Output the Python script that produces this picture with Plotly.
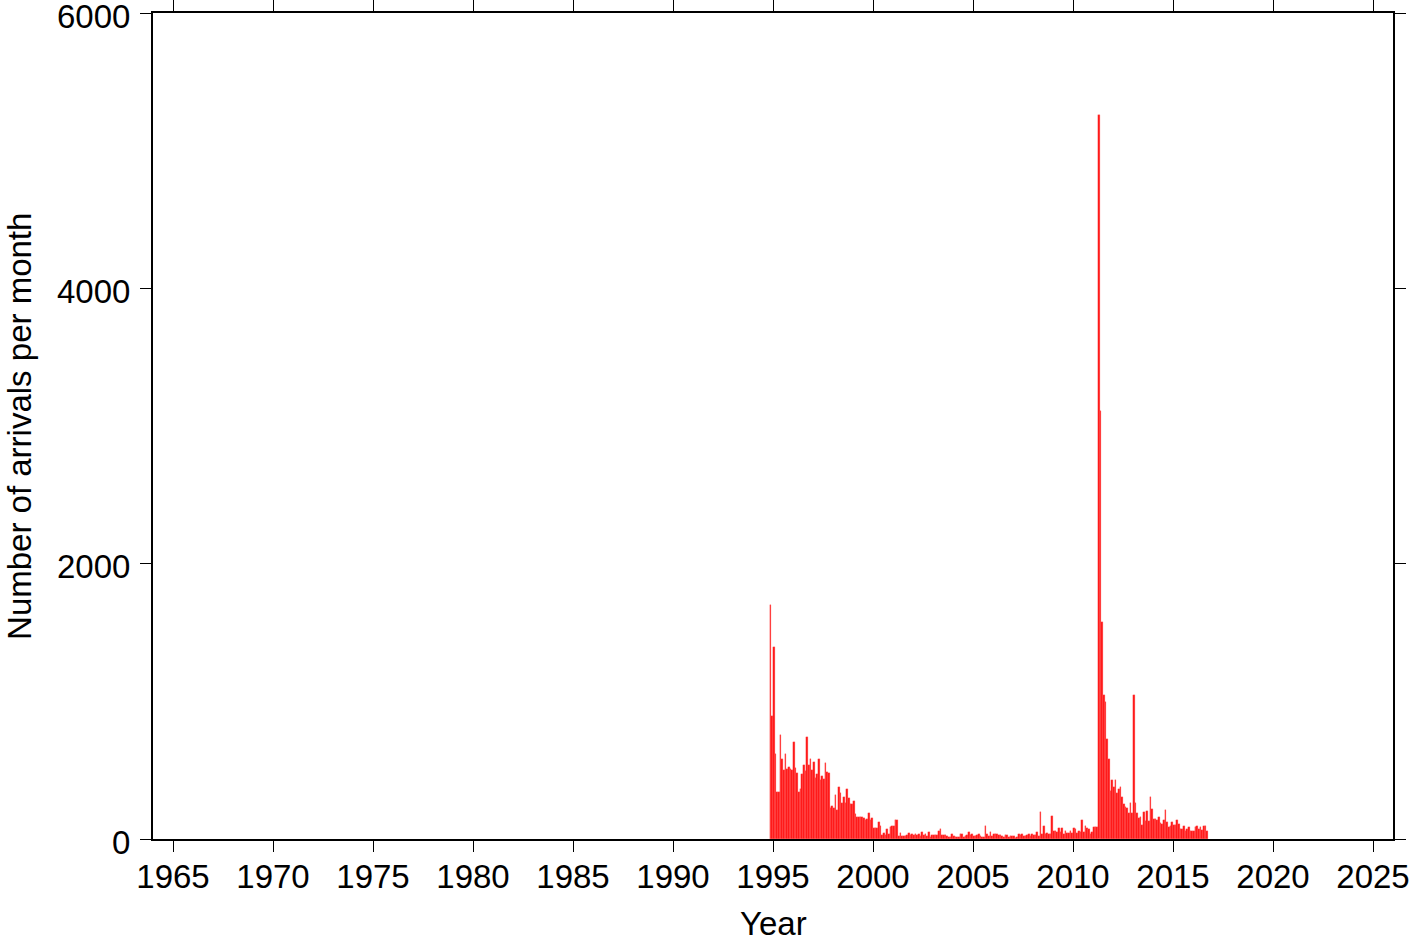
import plotly.graph_objects as go

# Monthly arrival counts, first bar = November 1994, last = September 2016
start_year = 1994
start_month = 11

counts_1994_2000 = [
    1700, 895, 1395, 617, 344, 344, 755, 583, 500, 617, 508, 525, 510, 500, 707, 518,
    482, 345, 363, 472, 537, 494, 740, 537, 581, 500, 562, 440, 472, 581, 428, 455,
    437, 550, 485, 480, 228, 237, 223, 320, 213, 380, 333, 260, 305, 262, 360, 296,
    253, 253, 276, 183, 162, 162, 162, 162, 155, 138, 147, 189, 138, 152, 82, 78, 78,
]
counts_2000_2001 = [121, 94, 29, 44, 30, 75, 33, 90, 97]
counts_2001_2004 = [
    97, 136, 136, 24, 44, 24, 24, 24, 29, 44, 29, 34, 29, 34, 29, 39, 19, 51, 27, 34,
    19, 51, 15, 27, 27, 27, 27, 55, 73, 29, 27, 29, 19, 17, 17, 34, 24, 15, 15, 15, 39, 39,
]
counts_2004_2007 = [
    12, 24, 29, 51, 29, 34, 19, 19, 29, 34, 19, 17, 17, 92, 36, 24, 48, 22, 39, 34,
    36, 29, 27, 19, 12, 27, 27, 15, 24, 22, 24, 10, 15, 34, 29, 34, 24, 22, 29, 34,
]
counts_2007_2011 = [
    19, 34, 27, 27, 51, 24, 194, 34, 94, 34, 44, 39, 34, 165, 58, 58, 53, 77, 53, 77,
    36, 58, 46, 46, 58, 46, 77, 73, 46, 56, 48, 138, 53, 94, 77, 70, 36, 53, 85, 87, 90,
]
counts_2011_2016 = [
    5260, 3110, 1578, 1046, 995, 730, 581, 349, 428, 375, 428, 332, 365, 375, 307, 254,
    235, 228, 191, 259, 191, 1046, 259, 191, 153, 162, 102, 198, 133, 203, 133, 303,
    216, 143, 143, 138, 162, 119, 109, 138, 211, 126, 90, 94, 123, 102, 104, 138, 109,
    75, 73, 94, 60, 75, 90, 60, 60, 58, 90, 97, 73, 90, 65, 97, 94, 60,
]

counts = (counts_1994_2000 + counts_2000_2001 + counts_2001_2004 +
          counts_2004_2007 + counts_2007_2011 + counts_2011_2016)

# decimal-year centre of each month
months = [start_year + (start_month - 1 + i) / 12 + 1 / 24 for i in range(len(counts))]

x_ticks = list(range(1965, 2026, 5))
y_ticks = [0, 2000, 4000, 6000]
x_title = "Year"
y_title = "Number of arrivals per month"

FONT = "Liberation Sans, Arial, Helvetica, sans-serif"
FS = 33

fig = go.Figure(
    go.Bar(
        x=months,
        y=counts,
        width=1 / 12,
        marker=dict(color="rgb(255,20,20)", line=dict(width=0.3, color="rgb(255,90,90)")),
    )
)

axis_common = dict(
    showline=True,
    linecolor="black",
    linewidth=2,
    mirror="allticks",
    ticks="outside",
    ticklen=11,
    tickwidth=1,
    tickcolor="black",
    showgrid=False,
    zeroline=False,
    automargin=False,
    ticklabeloverflow="allow",
    tickfont=dict(family=FONT, size=FS, color="black"),
)

fig.update_layout(
    width=1419,
    height=942,
    margin=dict(l=153, r=26, t=13, b=103),
    paper_bgcolor="white",
    plot_bgcolor="white",
    bargap=0,
    showlegend=False,
    font=dict(family=FONT, size=FS, color="black"),
    xaxis=dict(
        axis_common,
        range=[1964, 2026],
        tickvals=x_ticks,
        ticktext=[str(t) for t in x_ticks],
        ticklabelstandoff=-4,
    ),
    yaxis=dict(
        axis_common,
        range=[0, 6000],
        tickvals=y_ticks,
        ticktext=[str(t) for t in y_ticks],
        ticklabelstandoff=3,
        ticklabelshift=3,
    ),
    annotations=[
        dict(text=x_title, xref="paper", yref="paper", x=0.5, y=-0.1029,
             xanchor="center", yanchor="middle", showarrow=False,
             font=dict(family=FONT, size=FS, color="black")),
        dict(text=y_title, xref="paper", yref="paper", x=-0.1081, y=0.5,
             xanchor="center", yanchor="middle", textangle=-90, showarrow=False,
             font=dict(family=FONT, size=FS, color="black")),
    ],
)

fig.write_html(
    "out.html",
    config={"displayModeBar": False},
    post_script="document.body.style.margin='0';document.body.style.overflow='hidden';",
)
